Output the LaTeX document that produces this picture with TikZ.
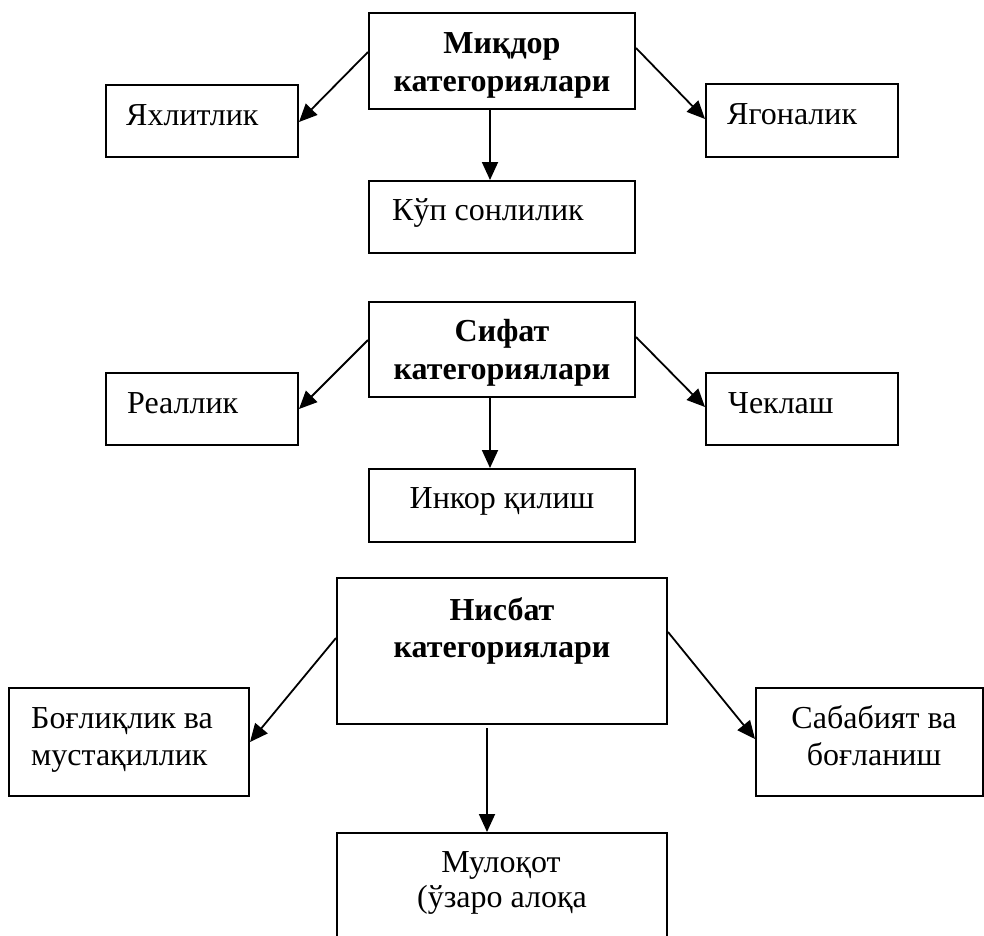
\documentclass[tikz,border=0pt]{standalone}
\usepackage{fontspec}
\setmainfont{Liberation Serif}
\usetikzlibrary{arrows.meta,calc}
\begin{document}
\begin{tikzpicture}[x=1pt,y=-1pt,
  box/.style={draw,line width=2pt,inner sep=0pt,minimum width=#1},
  lbl/.style={inner sep=0pt,font=\fontsize{32}{37}\selectfont},
  head/.style={inner sep=0pt,font=\fontsize{32}{38}\selectfont\bfseries},
  conn/.style={line width=1.8pt,-{Triangle[length=18pt,width=16pt]}}]
\clip (0,0) rectangle (984,935);
\fill[white] (0,0) rectangle (984,935);
% section 1
\node[box=266pt,minimum height=96pt] (m1) at (502,61) {};
\node[box=192pt,minimum height=72pt] (a1) at (202,121) {};
\node[box=192pt,minimum height=73pt] (c1) at (802,120.5) {};
\node[box=266pt,minimum height=72pt] (b1) at (502,217) {};
\node[head,anchor=base] (m1t1) at (502,53) {Миқдор};
\node[head,anchor=base] (m1t2) at (502,91) {категориялари};
\node[lbl,anchor=base west] (a1t) at (126,125) {Яхлитлик};
\node[lbl,anchor=base west] (c1t) at (727,124) {Ягоналик};
\node[lbl,anchor=base west] (b1t) at (392,220) {Кўп сонлилик};
\draw[conn] ($(m1.west)+(0,-9)$) -- ($(a1.east)+(0,1)$);
\draw[conn] ($(m1.east)+(0,-13)$) -- ($(c1.west)+(0,-1.5)$);
\draw[conn] ($(m1.south)+(-12,0)$) -- ($(b1.north)+(-12,0)$);
% section 2
\node[box=266pt,minimum height=95pt] (m2) at (502,349.5) {};
\node[box=192pt,minimum height=72pt] (a2) at (202,409) {};
\node[box=192pt,minimum height=72pt] (c2) at (802,409) {};
\node[box=266pt,minimum height=73pt] (b2) at (502,505.5) {};
\node[head,anchor=base] (m2t1) at (502,341) {Сифат};
\node[head,anchor=base] (m2t2) at (502,379) {категориялари};
\node[lbl,anchor=base west] (a2t) at (127,413) {Реаллик};
\node[lbl,anchor=base west] (c2t) at (728,413) {Чеклаш};
\node[lbl,anchor=base] (b2t) at (502,508) {Инкор қилиш};
\draw[conn] ($(m2.west)+(0,-9.5)$) -- ($(a2.east)+(0,0)$);
\draw[conn] ($(m2.east)+(0,-12.5)$) -- ($(c2.west)+(0,-2)$);
\draw[conn] ($(m2.south)+(-12,0)$) -- ($(b2.north)+(-12,0)$);
% section 3
\node[box=330pt,minimum height=146pt] (m3) at (502,651) {};
\node[box=240pt,minimum height=108pt] (a3) at (129,742) {};
\node[box=227pt,minimum height=108pt] (c3) at (869.5,742) {};
\node[box=330pt,minimum height=140pt] (b3) at (502,903) {};
\node[head,anchor=base] (m3t1) at (502,620) {Нисбат};
\node[head,anchor=base] (m3t2) at (502,657) {категориялари};
\node[lbl,anchor=base west] (a3t1) at (31,728) {Боғлиқлик ва};
\node[lbl,anchor=base west] (a3t2) at (31,765) {мустақиллик};
\node[lbl,anchor=base] (c3t1) at (874,728) {Сабабият ва};
\node[lbl,anchor=base] (c3t2) at (874,765) {боғланиш};
\node[lbl,anchor=base] (b3t1) at (501,872) {Мулоқот};
\node[lbl,anchor=base] (b3t2) at (502,907) {(ўзаро алоқа};
\draw[conn] ($(m3.west)+(0,-13)$) -- ($(a3.east)+(0,0)$);
\draw[conn] ($(m3.east)+(0,-19)$) -- ($(c3.west)+(0,-3)$);
\draw[conn] ($(m3.south)+(-15,3)$) -- ($(b3.north)+(-15,0)$);
\end{tikzpicture}
\end{document}
